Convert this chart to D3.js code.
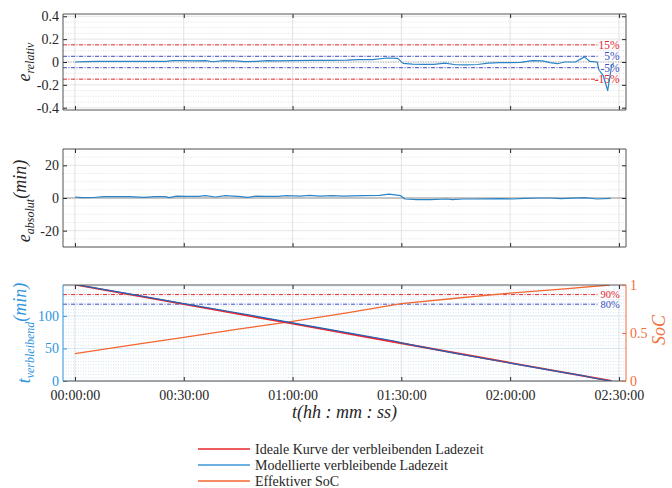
<!DOCTYPE html>
<html>
<head>
<meta charset="utf-8">
<script src="https://cdn.jsdelivr.net/npm/d3@7"></script>
<style>
  body { margin: 0; background: #fff; }
  svg text { font-family: "Liberation Serif", "DejaVu Serif", serif !important; }
</style>
</head>
<body>
<svg id="chart" width="672" height="488"></svg>
<script>
// x axis (minutes since start of charging)
const xTicks = [0, 30, 60, 90, 120, 150];
const xTickLabels = ["00:00:00", "00:30:00", "01:00:00", "01:30:00", "02:00:00", "02:30:00"];

// panel 1: relative error
const relTime = [0, 3, 6, 10, 15, 20, 25, 27, 30, 33, 36, 38, 41, 44, 47, 50, 53, 56, 60, 65, 70, 75, 78, 82, 86, 89,
  90.5, 93, 96, 99, 102, 105, 108, 111, 114, 117, 120, 123, 126, 129, 131, 133, 135, 138, 140.5, 142, 144, 144.5,
  145.7, 146.9, 148, 148.5];
const relErr = [0, 0.003, 0.005, 0.005, 0.005, 0.006, 0.006, 0.012, 0.012, 0.01, 0.012, 0.002, 0.012, 0.01, 0.004,
  0.006, 0.012, 0.01, 0.012, 0.015, 0.014, 0.016, 0.02, 0.02, 0.035, 0.032, -0.012, -0.018, -0.02, -0.02, -0.01,
  -0.024, -0.025, -0.022, -0.01, -0.006, -0.006, -0.004, 0.012, 0.01, -0.005, -0.015, 0, 0, 0.045, 0.005, 0, -0.07,
  -0.12, -0.25, -0.03, -0.01];
const relTicks = [-0.4, -0.2, 0, 0.2, 0.4];
const relLimits = [0.15, 0.05, -0.05, -0.15];
const relLimitLabels = ["15%", "5%", "-5%", "-15%"];

// panel 2: absolute error in minutes
const absTime = [0, 2, 5, 8, 12, 15, 19, 22, 25, 26, 28, 31, 34, 36, 38.7, 41.5, 43.5, 45, 47.7, 50, 53, 56, 58.3,
  62, 64.7, 67.5, 71, 74, 79.5, 84, 86.6, 89.8, 91, 94.4, 98, 102.6, 104, 107, 110, 117, 120.6, 124, 128, 131, 134,
  137, 140.5, 144, 147.7];
const absErr = [0.6, 0.2, 0.3, 0.8, 0.8, 0.8, 0.4, 0.8, 0.8, 0.2, 1.2, 1.0, 1.0, 1.4, 0.6, 1.4, 1.2, 1.0, 0.4, 1.2,
  1.0, 1.0, 1.4, 1.2, 1.6, 1.2, 1.4, 1.2, 1.4, 1.6, 2.4, 1.4, -0.6, -1.0, -1.0, -0.6, -1.0, -0.6, -0.6, -0.4, -0.6,
  -0.2, 0, 0, -0.4, -0.1, 0.2, -0.6, -0.2];
const absTicks = [-20, 0, 20];

// panel 3: remaining time and SoC
const idealTime = [0, 30, 60, 90, 120, 148];
const idealRemaining = [148, 118, 88, 58, 28, 0];
const modelTime = [0, 15, 30, 45, 60, 75, 88, 91, 105, 120, 135, 140, 144, 148];
const modelRemaining = [148.4, 133.8, 119, 104.5, 89.3, 74.2, 61.5, 57.3, 42.5, 27.6, 12.8, 8.2, 3.5, 0];
const socTime = [0, 15, 30, 45, 60, 75, 90, 105, 120, 135, 147.5];
const socValues = [0.286, 0.37, 0.454, 0.54, 0.62, 0.71, 0.805, 0.862, 0.916, 0.96, 1.0];
const remTicks = [0, 50, 100];
const socTicks = [0, 0.5, 1];
const socLimits = [0.9, 0.8];
const socLimitLabels = ["90%", "80%"];

const legendLabels = ["Ideale Kurve der verbleibenden Ladezeit", "Modellierte verbleibende Ladezeit", "Effektiver SoC"];

const RED = "#e8262b", ORANGE = "#f2662f", LIMBLUE = "#3b4cc0";
const AXBLUE = "#2f95dd", AXORANGE = "#f07040", DARK = "#262626";
const SERIF = "'Liberation Serif', 'DejaVu Serif', serif";

const svg = d3.select("#chart");
const x = d3.scaleLinear().domain([-3.3, 151.95]).range([63, 626]);

const panels = [
  {top: 14, bottom: 110, domain: [-0.42, 0.42], ticks: relTicks, minor: 0.05},
  {top: 149, bottom: 247, domain: [-30, 30], ticks: absTicks, minor: 5},
  {top: 285, bottom: 381, domain: [0, 147.5], ticks: remTicks, minor: 5}
];
panels.forEach((p, i) => {
  p.y = d3.scaleLinear().domain(p.domain).range([p.bottom, p.top]);
  p.g = svg.append("g");
  svg.append("clipPath").attr("id", "clip" + i).append("rect")
    .attr("x", x.range()[0]).attr("y", p.top)
    .attr("width", x.range()[1] - x.range()[0]).attr("height", p.bottom - p.top);
});

function drawGrid(p, color, majorColor) {
  const minorVals = d3.range(Math.ceil(p.domain[0] / p.minor), Math.floor(p.domain[1] / p.minor) + 1)
    .map(k => k * p.minor)
    .filter(v => !p.ticks.some(t => Math.abs(t - v) < 1e-9));
  p.g.selectAll(".minor").data(minorVals).join("line")
    .attr("x1", x.range()[0]).attr("x2", x.range()[1])
    .attr("y1", d => p.y(d)).attr("y2", d => p.y(d))
    .attr("stroke", color).attr("stroke-width", 0.7).attr("stroke-dasharray", "1,1.5");
  p.g.selectAll(".major").data(p.ticks).join("line")
    .attr("x1", x.range()[0]).attr("x2", x.range()[1])
    .attr("y1", d => p.y(d)).attr("y2", d => p.y(d))
    .attr("stroke", majorColor).attr("stroke-width", 0.8);
  p.g.selectAll(".vgrid").data(xTicks).join("line")
    .attr("x1", d => x(d)).attr("x2", d => x(d))
    .attr("y1", p.top).attr("y2", p.bottom)
    .attr("stroke", "#dcdcdc").attr("stroke-width", 0.8);
}

function styleAxis(ax, color) {
  ax.attr("font-family", SERIF).attr("font-size", 14);
  ax.select(".domain").remove();
  ax.selectAll("line").attr("stroke", color);
  ax.selectAll("text").attr("fill", color).style("font-family", SERIF).style("font-size", "14px");
}

function drawFrame(p, leftColor, rightColor, showXLabels) {
  const ya = p.g.append("g").attr("transform", `translate(${x.range()[0]},0)`)
    .call(d3.axisLeft(p.y).tickValues(p.ticks).tickSize(-4).tickSizeOuter(0).tickPadding(4)
      .tickFormat(d => String(d)));
  styleAxis(ya, leftColor);

  const xb = p.g.append("g").attr("transform", `translate(0,${p.bottom})`)
    .call(d3.axisBottom(x).tickValues(xTicks).tickSize(-4).tickSizeOuter(0).tickPadding(9)
      .tickFormat((d, i) => showXLabels ? xTickLabels[i] : ""));
  styleAxis(xb, DARK);

  const xt = p.g.append("g").attr("transform", `translate(0,${p.top})`)
    .call(d3.axisTop(x).tickValues(xTicks).tickSize(-4).tickSizeOuter(0).tickFormat(""));
  styleAxis(xt, DARK);

  const [x0, x1] = x.range();
  p.g.append("line").attr("x1", x0).attr("x2", x1).attr("y1", p.top).attr("y2", p.top).attr("stroke", "#555");
  p.g.append("line").attr("x1", x0).attr("x2", x1).attr("y1", p.bottom).attr("y2", p.bottom).attr("stroke", "#555");
  p.g.append("line").attr("x1", x0).attr("x2", x0).attr("y1", p.top).attr("y2", p.bottom)
    .attr("stroke", leftColor === DARK ? "#555" : leftColor);
  p.g.append("line").attr("x1", x1).attr("x2", x1).attr("y1", p.top).attr("y2", p.bottom)
    .attr("stroke", rightColor === DARK ? "#555" : rightColor);
}

function rightTicks(p, scale, ticks, color, labels) {
  const ax = p.g.append("g").attr("transform", `translate(${x.range()[1]},0)`)
    .call(d3.axisRight(scale).tickValues(ticks).tickSize(-4).tickSizeOuter(0).tickPadding(4)
      .tickFormat(d => labels ? String(d) : ""));
  styleAxis(ax, color);
}

function limitLines(p, scale, values, labels, colors, fontSize) {
  const g = p.g.append("g");
  g.selectAll("line").data(values).join("line")
    .attr("x1", x.range()[0]).attr("x2", x(144.5))
    .attr("y1", d => scale(d)).attr("y2", d => scale(d))
    .attr("stroke", (d, i) => colors[i]).attr("stroke-width", 1)
    .attr("stroke-dasharray", "4,1.5,1,1.5");
  g.selectAll("text").data(values).join("text")
    .attr("x", x(150.2)).attr("y", d => scale(d)).attr("dy", "0.35em")
    .attr("text-anchor", "end").attr("fill", (d, i) => colors[i])
    .style("font-family", SERIF).style("font-size", fontSize + "px")
    .text((d, i) => labels[i]);
}

function series(p, i, xs, ys, scale, color, width) {
  p.g.append("path")
    .datum(xs.map((t, k) => [t, ys[k]]))
    .attr("clip-path", `url(#clip${i})`)
    .attr("fill", "none").attr("stroke", color).attr("stroke-width", width)
    .attr("stroke-linejoin", "round")
    .attr("d", d3.line().x(d => x(d[0])).y(d => scale(d[1])));
}

// panel 1
const p1 = panels[0];
drawGrid(p1, "#d6d6d6", "#dedede");
p1.g.append("line").attr("x1", x.range()[0]).attr("x2", x.range()[1])
  .attr("y1", p1.y(0)).attr("y2", p1.y(0)).attr("stroke", "#aaa").attr("stroke-dasharray", "1,1.5");
limitLines(p1, p1.y, relLimits, relLimitLabels, [RED, LIMBLUE, LIMBLUE, RED], 11.5);
series(p1, 0, relTime, relErr, p1.y, "#2a84c8", 1.2);
drawFrame(p1, DARK, DARK, false);
rightTicks(p1, p1.y, relTicks, DARK, false);

// panel 2
const p2 = panels[1];
drawGrid(p2, "#d6d6d6", "#dedede");
p2.g.append("line").attr("x1", x.range()[0]).attr("x2", x.range()[1])
  .attr("y1", p2.y(0)).attr("y2", p2.y(0)).attr("stroke", "#999").attr("stroke-width", 1.2);
series(p2, 1, absTime, absErr, p2.y, "#2a84c8", 1.2);
drawFrame(p2, DARK, DARK, false);
rightTicks(p2, p2.y, absTicks, DARK, false);

// panel 3
const p3 = panels[2];
const ySoc = d3.scaleLinear().domain([0, 1]).range([p3.bottom, p3.top]);
drawGrid(p3, "#bcdcf2", "#c8e2f4");
limitLines(p3, ySoc, socLimits, socLimitLabels, [RED, LIMBLUE], 10.5);
series(p3, 2, socTime, socValues, ySoc, ORANGE, 1.3);
series(p3, 2, idealTime, idealRemaining, p3.y, RED, 1.8);
series(p3, 2, modelTime, modelRemaining, p3.y, "#1f64b8", 1.2);
drawFrame(p3, AXBLUE, AXORANGE, true);
rightTicks(p3, ySoc, socTicks, AXORANGE, true);

// axis titles
function yTitle(cx, cy, main, sub, tail, color, rot) {
  const t = svg.append("text").attr("transform", `translate(${cx},${cy}) rotate(${rot})`)
    .attr("text-anchor", "middle").attr("fill", color)
    .style("font-family", SERIF).style("font-style", "italic").style("font-size", "18px");
  t.append("tspan").text(main);
  if (sub) t.append("tspan").attr("dy", "0.3em").style("font-size", "12px").text(sub);
  if (tail) t.append("tspan").attr("dy", sub ? "-0.45em" : 0).text(tail);
}
yTitle(30, 62, "e", "relativ", "", DARK, -90);
yTitle(30, 201, "e", "absolut", "(min)", DARK, -90);
yTitle(30, 333, "t", "verbleibend", "(min)", AXBLUE, -90);
yTitle(665, 330, "SoC", "", "", AXORANGE, -90);

svg.append("text").attr("x", (x.range()[0] + x.range()[1]) / 2).attr("y", 418)
  .attr("text-anchor", "middle").attr("fill", DARK)
  .style("font-family", SERIF).style("font-style", "italic").style("font-size", "18px")
  .text("t(hh : mm : ss)");

// legend
const legendColors = [RED, "#3d95d6", ORANGE];
const leg = svg.append("g").selectAll("g").data(legendLabels).join("g")
  .attr("transform", (d, i) => `translate(198,${449 + i * 16})`);
leg.append("line").attr("x1", 0).attr("x2", 52).attr("stroke", (d, i) => legendColors[i]).attr("stroke-width", 1.3);
leg.append("text").attr("x", 57).attr("dy", "0.35em").attr("fill", DARK)
  .style("font-family", SERIF).style("font-size", "14px").text(d => d);
</script>
</body>
</html>
